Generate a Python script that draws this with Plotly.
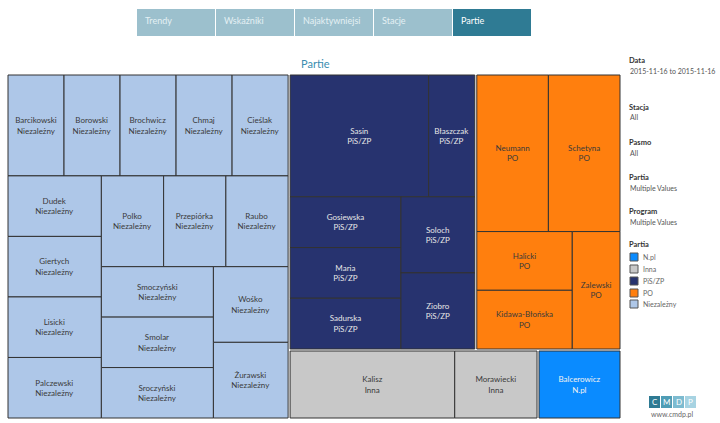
import plotly.graph_objects as go

# ---------------- data ----------------
parties = ["Niezależny", "PiS/ZP", "PO", "Inna", "N.pl"]
party_colors = ["#aec7e8", "#27336f", "#ff7f0e", "#c8c8c8", "#0a8bff"]
party_text_colors = ["#3a3a3a", "#e6e6e6", "#3a3a3a", "#3a3a3a", "#f2f2f2"]

niez_names = ["Barcikowski", "Borowski", "Brochwicz", "Chmaj", "Cieślak", "Dudek",
              "Giertych", "Lisicki", "Palczewski", "Polko", "Przepiórka", "Raubo",
              "Smoczyński", "Smolar", "Sroczyński", "Wośko", "Żurawski"]
niez_values = [1, 1, 1, 1, 1, 1, 1, 1, 1, 1, 1, 1, 1, 1, 1, 1, 1]

pis_names = ["Sasin", "Błaszczak", "Gosiewska", "Maria", "Sadurska", "Soloch", "Ziobro"]
pis_values = [3, 1, 1, 1, 1, 1, 1]

po_names = ["Neumann", "Schetyna", "Halicki", "Kidawa-Błońska", "Zalewski"]
po_values = [2, 2, 1, 1, 1]

inna_names = ["Kalisz", "Morawiecki"]
inna_values = [2, 1]

npl_names = ["Balcerowicz"]
npl_values = [1]

members = [(niez_names, niez_values), (pis_names, pis_values), (po_names, po_values),
           (inna_names, inna_values), (npl_names, npl_values)]

tabs = ["Trendy", "Wskaźniki", "Najaktywniejsi", "Stacje", "Partie"]
active_tab = "Partie"

filters = [("Data", "2015-11-16 to 2015-11-16"), ("Stacja", "All"), ("Pasmo", "All"),
           ("Partia", "Multiple Values"), ("Program", "Multiple Values")]
legend_items = ["N.pl", "Inna", "PiS/ZP", "PO", "Niezależny"]

# ---------------- build hierarchy ----------------
ids, labels, parents_, values, colors, texts, tcolors, lwidths = [], [], [], [], [], [], [], []
ids.append("root"); labels.append("Partie"); parents_.append(""); values.append(0)
colors.append("#ffffff"); texts.append(""); tcolors.append("#ffffff"); lwidths.append(0)
for p, col, tc, (names, vals) in zip(parties, party_colors, party_text_colors, members):
    ids.append("P:" + p); labels.append(p); parents_.append("root"); values.append(0)
    colors.append("#ffffff"); texts.append(""); tcolors.append("#ffffff"); lwidths.append(0)
    for n, v in zip(names, vals):
        ids.append(p + "/" + n); labels.append(n); parents_.append("P:" + p); values.append(v)
        colors.append(col); texts.append(n + "<br>" + p); tcolors.append(tc); lwidths.append(1)

W, H = 720, 423
def px(x):
    return x / W
def py(y):
    return 1 - y / H

FONT = "Lato"

fig = go.Figure(go.Treemap(
    ids=ids, labels=labels, parents=parents_, values=values,
    branchvalues="remainder", sort=True,
    text=texts, textinfo="text",
    textposition="middle center",
    textfont=dict(family=FONT, size=8, color=tcolors),
    marker=dict(colors=colors, line=dict(color="#333333", width=lwidths),
                pad=dict(t=1, l=1, r=1, b=1), depthfade=False),
    tiling=dict(packing="squarify", squarifyratio=1.618, pad=0),
    pathbar=dict(visible=False),
    domain=dict(x=[px(6), px(622)], y=[py(420), py(73)]),
    hoverinfo="label+value",
))

shapes, annotations = [], []

# navigation tabs
tab_x = [137, 216, 295, 374, 453]
for t, x0 in zip(tabs, tab_x):
    active = (t == active_tab)
    shapes.append(dict(type="rect", xref="paper", yref="paper",
                       x0=px(x0), x1=px(x0 + 78), y0=py(36), y1=py(9),
                       fillcolor="#2f7b94" if active else "#9cc0cd",
                       line=dict(width=0), layer="above"))
    annotations.append(dict(text=t, xref="paper", yref="paper", x=px(x0 + 6), y=py(20.5),
                            xanchor="left", yanchor="middle", showarrow=False,
                            font=dict(family=FONT, size=9,
                                      color="#ffffff" if active else "#e4f0f4")))

# title
annotations.append(dict(text="Partie", xref="paper", yref="paper", x=px(315), y=py(63),
                        xanchor="center", yanchor="middle", showarrow=False,
                        font=dict(family=FONT, size=11, color="#3a8db0")))

# filters panel
filter_y = [61, 107, 143, 178, 212]
for (h, v), y in zip(filters, filter_y):
    annotations.append(dict(text="<b>" + h + "</b>", xref="paper", yref="paper",
                            x=px(627), y=py(y), xanchor="left", yanchor="middle",
                            showarrow=False, font=dict(family=FONT, size=7.5, color="#333333")))
    annotations.append(dict(text=v, xref="paper", yref="paper",
                            x=px(628), y=py(y + 10), xanchor="left", yanchor="middle",
                            showarrow=False, font=dict(family=FONT, size=7, color="#555555")))

# legend
annotations.append(dict(text="<b>Partia</b>", xref="paper", yref="paper",
                        x=px(627), y=py(245), xanchor="left", yanchor="middle",
                        showarrow=False, font=dict(family=FONT, size=7.5, color="#333333")))
leg_y = [257, 269, 281, 293, 304]
for item, y in zip(legend_items, leg_y):
    c = party_colors[parties.index(item)]
    shapes.append(dict(type="rect", xref="paper", yref="paper",
                       x0=px(630), x1=px(638), y0=py(y + 4), y1=py(y - 4),
                       fillcolor=c, line=dict(color="#555555", width=1)))
    annotations.append(dict(text=item, xref="paper", yref="paper",
                            x=px(641), y=py(y), xanchor="left", yanchor="middle",
                            showarrow=False, font=dict(family=FONT, size=7, color="#666666")))

# logo
logo_letters = ["C", "M", "D", "P"]
logo_colors = ["#2e7a93", "#4f9db5", "#7dbbd0", "#a7d3e2"]
for i, (L, c) in enumerate(zip(logo_letters, logo_colors)):
    x0 = 649 + i * 12
    shapes.append(dict(type="rect", xref="paper", yref="paper",
                       x0=px(x0), x1=px(x0 + 11), y0=py(408), y1=py(396),
                       fillcolor=c, line=dict(width=0)))
    annotations.append(dict(text=L, xref="paper", yref="paper", x=px(x0 + 5.5), y=py(402),
                            xanchor="center", yanchor="middle", showarrow=False,
                            font=dict(family=FONT, size=8, color="#ffffff")))
annotations.append(dict(text="www.cmdp.pl", xref="paper", yref="paper", x=px(672), y=py(414),
                        xanchor="center", yanchor="middle", showarrow=False,
                        font=dict(family=FONT, size=7, color="#666666")))

fig.update_layout(
    width=W, height=H,
    margin=dict(l=0, r=0, t=0, b=0),
    paper_bgcolor="#ffffff",
    font=dict(family=FONT),
    shapes=shapes, annotations=annotations,
    uniformtext=dict(minsize=8, mode="show"),
    showlegend=False,
)

fig.write_html("out.html", config={"displayModeBar": False},
               post_script="document.body.style.margin='0';document.body.style.padding='0';")
